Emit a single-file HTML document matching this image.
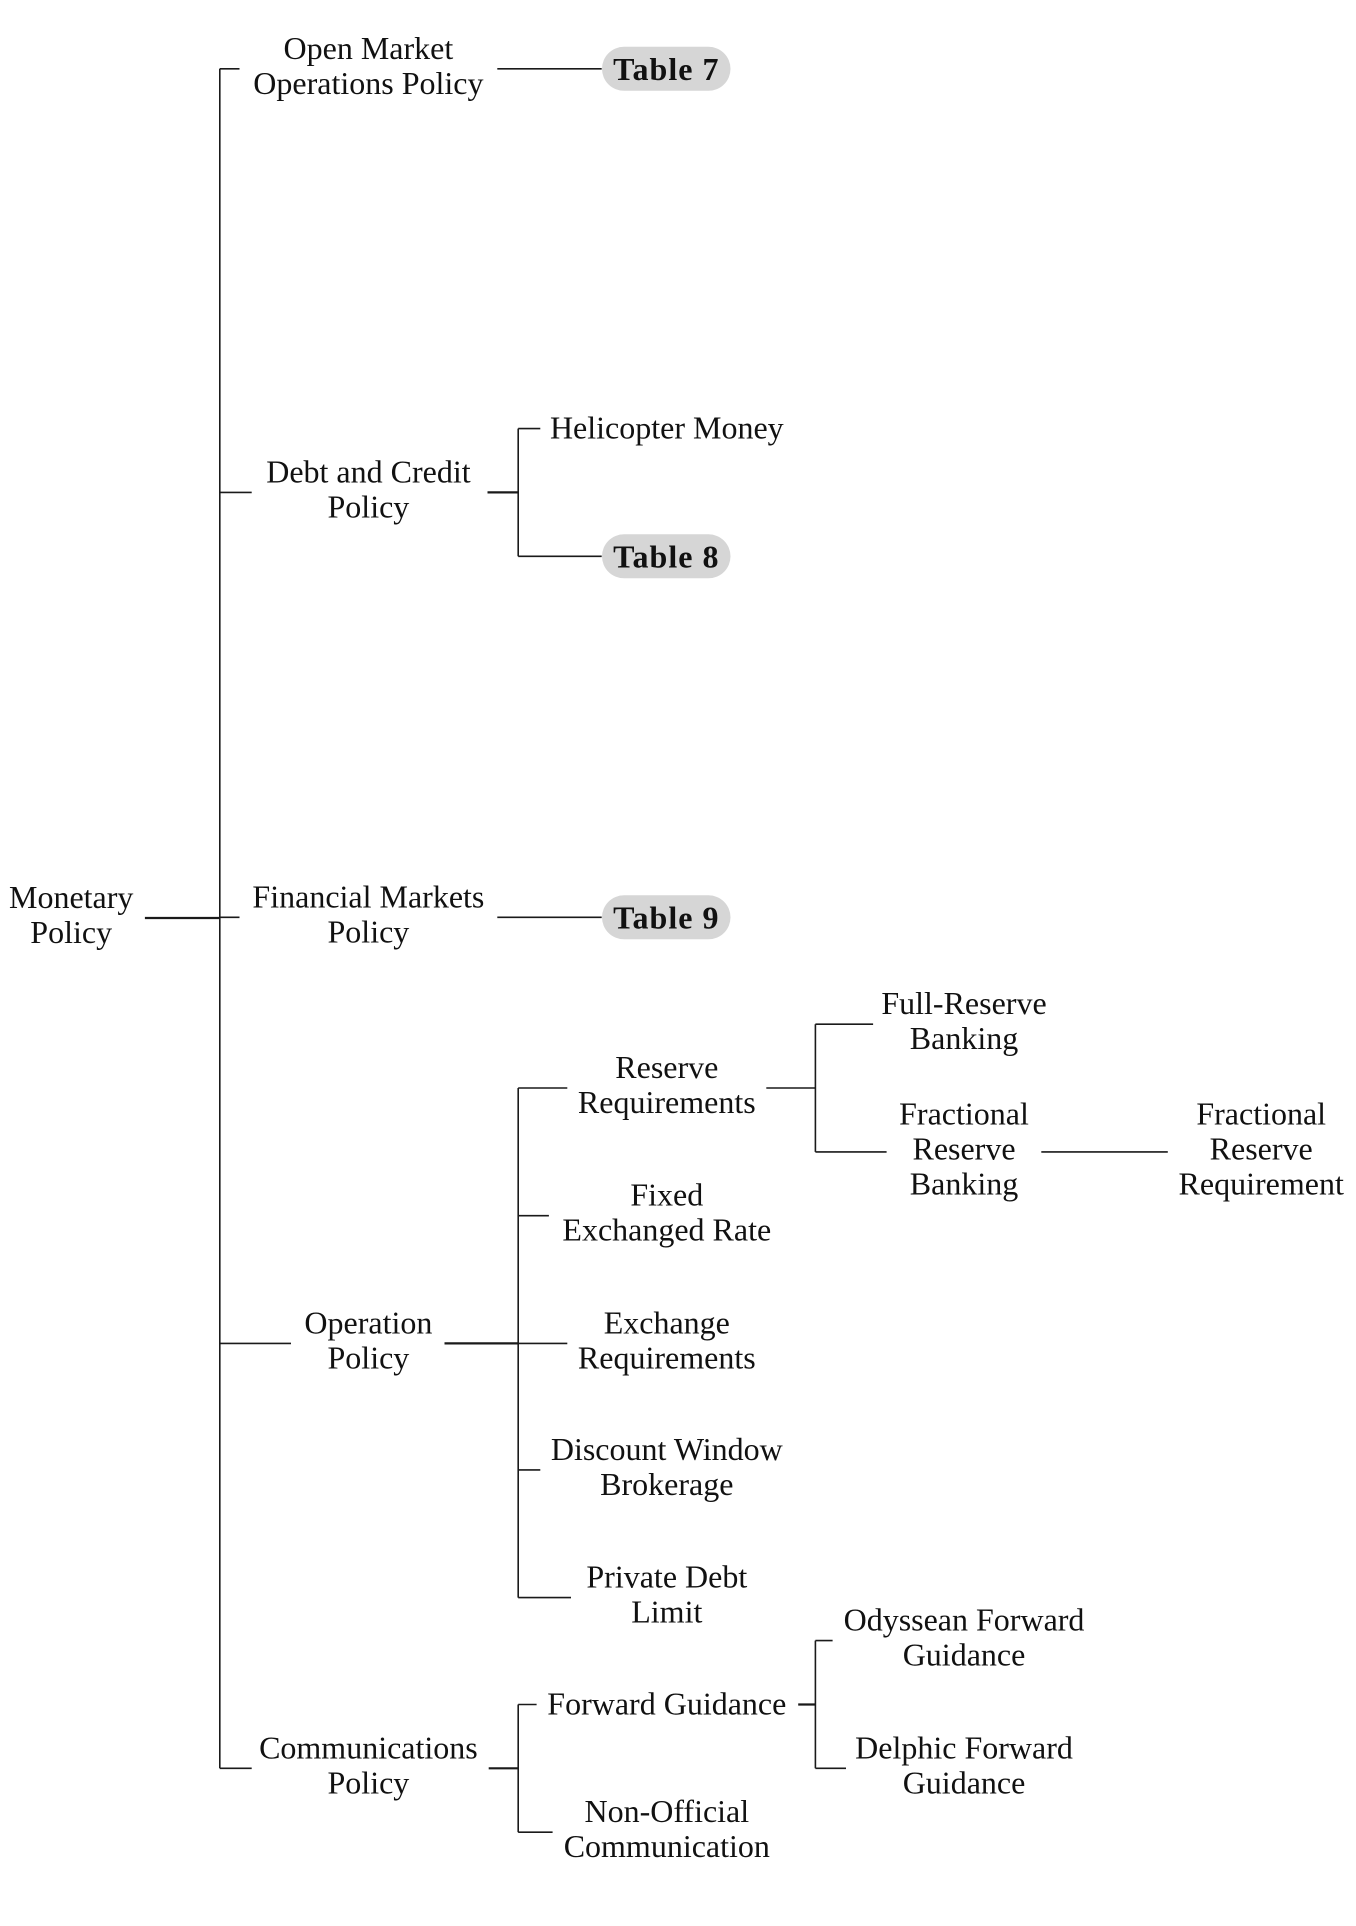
<!DOCTYPE html>
<html>
<head>
<meta charset="utf-8">
<style>
  html, body { margin: 0; padding: 0; background: #ffffff; }
  body { width: 1356px; height: 1926px; overflow: hidden; }
  svg { display: block; }
  .t { font-family: "Liberation Serif", "DejaVu Serif", serif; font-size: 32px; fill: #111; text-anchor: middle; }
  .b { font-family: "Liberation Serif", "DejaVu Serif", serif; font-size: 32px; font-weight: bold; fill: #111; text-anchor: middle; letter-spacing: 1px; }
  .l { stroke: #1a1a1a; stroke-width: 1.6; fill: none; stroke-linecap: butt; }
  .lt { stroke: #1a1a1a; stroke-width: 2.2; fill: none; }
  .pill { fill: #d6d6d6; }
</style>
</head>
<body>
<svg width="1356" height="1926" viewBox="0 0 1356 1926" xmlns="http://www.w3.org/2000/svg">
  <!-- Main trunk -->
  <path class="l" d="M219.8 68.8 V1768.3"/>
  <path class="lt" d="M144.9 918 H219.8"/>
  <path class="l" d="M219.8 68.8 H239.5"/>
  <path class="l" d="M219.8 492.4 H251.7"/>
  <path class="l" d="M219.8 917.3 H239.5"/>
  <path class="l" d="M219.8 1343.4 H291"/>
  <path class="l" d="M219.8 1768.3 H251.7"/>

  <!-- Open Market -> Table 7 -->
  <path class="l" d="M497.3 68.8 H601.7"/>
  <!-- Debt and Credit -->
  <path class="lt" d="M487.5 492.4 H518.2"/>
  <path class="l" d="M518.2 428.6 V556.3"/>
  <path class="l" d="M518.2 428.6 H540.3"/>
  <path class="l" d="M518.2 556.3 H601.7"/>
  <!-- Financial Markets -> Table 9 -->
  <path class="l" d="M497.3 917.3 H601.7"/>
  <!-- Operation Policy -->
  <path class="lt" d="M444.5 1343.4 H518.2"/>
  <path class="l" d="M518.2 1088 V1597.6"/>
  <path class="l" d="M518.2 1088 H567.3"/>
  <path class="l" d="M518.2 1215.7 H548.9"/>
  <path class="l" d="M518.2 1343.4 H567.3"/>
  <path class="l" d="M518.2 1469.9 H540.3"/>
  <path class="l" d="M518.2 1597.6 H571"/>
  <!-- Reserve Requirements -->
  <path class="l" d="M766.3 1088 H815.4"/>
  <path class="l" d="M815.4 1024.2 V1151.9"/>
  <path class="l" d="M815.4 1024.2 H873.1"/>
  <path class="l" d="M815.4 1151.9 H886.6"/>
  <!-- Fractional Reserve Banking -> Requirement -->
  <path class="l" d="M1041.3 1151.9 H1167.8"/>
  <!-- Communications -->
  <path class="lt" d="M488.7 1768.3 H518.2"/>
  <path class="l" d="M518.2 1704.5 V1832.2"/>
  <path class="l" d="M518.2 1704.5 H536.6"/>
  <path class="l" d="M518.2 1832.2 H552.6"/>
  <!-- Forward Guidance -->
  <path class="lt" d="M798.2 1704.5 H815.4"/>
  <path class="l" d="M815.4 1640.6 V1768.3"/>
  <path class="l" d="M815.4 1640.6 H832.6"/>
  <path class="l" d="M815.4 1768.3 H846"/>

  <!-- Pills -->
  <rect class="pill" x="602" y="46.8" width="128.5" height="44" rx="22" ry="22"/>
  <text class="b" x="666.3" y="79.8">Table 7</text>
  <rect class="pill" x="602" y="534.3" width="128.5" height="44" rx="22" ry="22"/>
  <text class="b" x="666.3" y="567.3">Table 8</text>
  <rect class="pill" x="602" y="895.3" width="128.5" height="44" rx="22" ry="22"/>
  <text class="b" x="666.3" y="928.3">Table 9</text>

  <!-- Level 0 -->
  <text class="t" x="71.2" y="908">Monetary</text>
  <text class="t" x="71.2" y="943">Policy</text>

  <!-- Level 1 -->
  <text class="t" x="368.4" y="58.8">Open Market</text>
  <text class="t" x="368.4" y="93.8">Operations Policy</text>

  <text class="t" x="368.4" y="482.4">Debt and Credit</text>
  <text class="t" x="368.4" y="517.4">Policy</text>

  <text class="t" x="368.4" y="907.3">Financial Markets</text>
  <text class="t" x="368.4" y="942.3">Policy</text>

  <text class="t" x="368.4" y="1333.4">Operation</text>
  <text class="t" x="368.4" y="1368.4">Policy</text>

  <text class="t" x="368.4" y="1758.3">Communications</text>
  <text class="t" x="368.4" y="1793.3">Policy</text>

  <!-- Level 2 -->
  <text class="t" x="666.8" y="438.6">Helicopter Money</text>

  <text class="t" x="666.8" y="1078">Reserve</text>
  <text class="t" x="666.8" y="1113">Requirements</text>

  <text class="t" x="666.8" y="1205.7">Fixed</text>
  <text class="t" x="666.8" y="1240.7">Exchanged Rate</text>

  <text class="t" x="666.8" y="1333.4">Exchange</text>
  <text class="t" x="666.8" y="1368.4">Requirements</text>

  <text class="t" x="666.8" y="1459.9">Discount Window</text>
  <text class="t" x="666.8" y="1494.9">Brokerage</text>

  <text class="t" x="666.8" y="1587.6">Private Debt</text>
  <text class="t" x="666.8" y="1622.6">Limit</text>

  <text class="t" x="666.8" y="1714.5">Forward Guidance</text>

  <text class="t" x="666.8" y="1822.2">Non-Official</text>
  <text class="t" x="666.8" y="1857.2">Communication</text>

  <!-- Level 3 -->
  <text class="t" x="964" y="1014.2">Full-Reserve</text>
  <text class="t" x="964" y="1049.2">Banking</text>

  <text class="t" x="964" y="1124.4">Fractional</text>
  <text class="t" x="964" y="1159.4">Reserve</text>
  <text class="t" x="964" y="1194.4">Banking</text>

  <text class="t" x="964" y="1630.6">Odyssean Forward</text>
  <text class="t" x="964" y="1665.6">Guidance</text>

  <text class="t" x="964" y="1758.3">Delphic Forward</text>
  <text class="t" x="964" y="1793.3">Guidance</text>

  <!-- Level 4 -->
  <text class="t" x="1261.2" y="1124.4">Fractional</text>
  <text class="t" x="1261.2" y="1159.4">Reserve</text>
  <text class="t" x="1261.2" y="1194.4">Requirement</text>
</svg>
</body>
</html>
